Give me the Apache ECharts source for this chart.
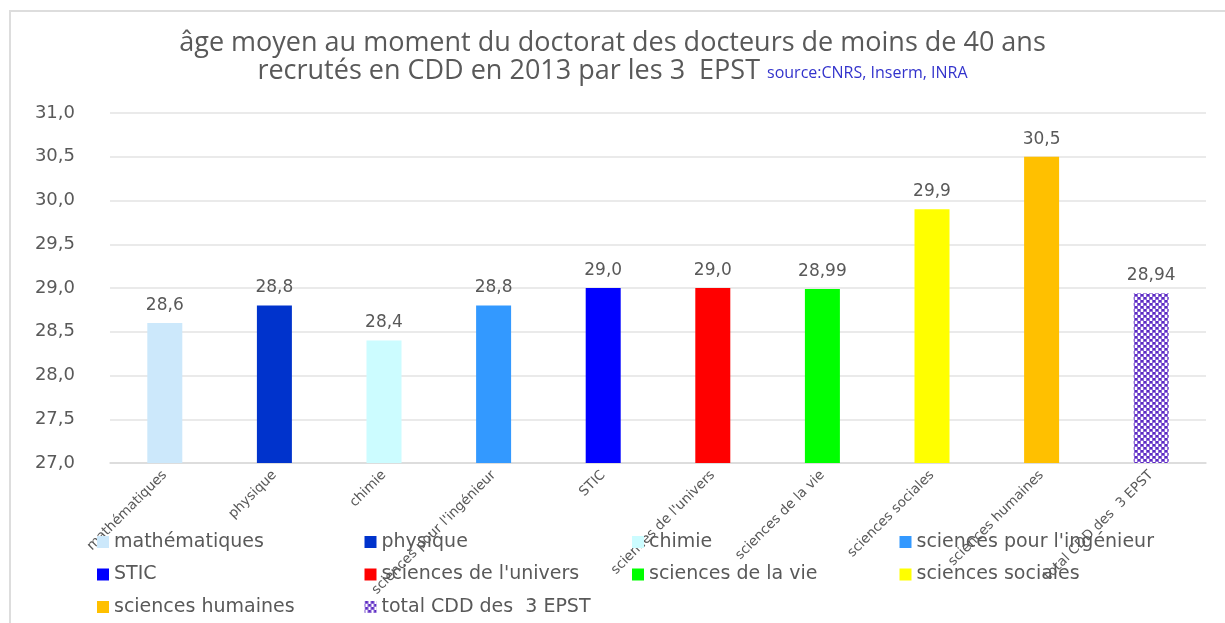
<!DOCTYPE html>
<html>
<head>
<meta charset="utf-8">
<script src="https://cdn.jsdelivr.net/npm/echarts@6/dist/echarts.min.js"></script>
<style>
  html, body { margin: 0; padding: 0; background: #fff; }
  #chart { width: 1225px; height: 623px; }
</style>
</head>
<body>
<div id="chart"></div>
<script>
// Disciplines (x-axis categories, also the series names)
const categories = [
  'mathématiques', 'physique', 'chimie', "sciences pour l'ingénieur", 'STIC',
  "sciences de l'univers", 'sciences de la vie', 'sciences sociales',
  'sciences humaines', 'total CDD des  3 EPST'
];
// Mean age at doctorate (years)
const meanAge = [28.6, 28.8, 28.4, 28.8, 29.0, 29.0, 28.99, 29.9, 30.5, 28.94];
// Decimal places shown in each bar's label
const labelDecimals = [1, 1, 1, 1, 1, 1, 2, 1, 1, 2];
// Y-axis range and step
const yMin = 27, yMax = 31, yStep = 0.5;

// Bar fills, one per discipline
const palette = ['#cce8fb', '#0033cc', '#ccfcff', '#3399ff', '#0000ff',
                 '#ff0000', '#00ff00', '#ffff00', '#ffc000', null];

// Dotted purple fill for the total bar
function dotPattern() {
  const c = document.createElement('canvas');
  c.width = 6; c.height = 6;
  const g = c.getContext('2d');
  g.fillStyle = '#ffffff';
  g.fillRect(0, 0, 6, 6);
  g.fillStyle = '#8f6bd8';
  g.fillRect(0, 0, 4, 3);
  g.fillRect(3, 3, 4, 3);
  g.fillRect(0, 3, 1, 3);
  g.fillStyle = '#5b2bc2';
  g.fillRect(1, 0, 2, 2);
  g.fillRect(4, 3, 2, 2);
  return c;
}

const fmt = (v, d) => v.toFixed(d).replace('.', ',');
const grey = '#595959';
const font = 'DejaVu Sans';

const series = categories.map((name, i) => ({
  name: name,
  type: 'bar',
  barWidth: 35,
  barGap: '-100%',
  itemStyle: {
    color: palette[i] ? palette[i] : { image: dotPattern(), repeat: 'repeat' }
  },
  label: {
    show: true,
    position: 'top',
    distance: 9,
    color: grey,
    fontFamily: font,
    fontSize: 17,
    formatter: () => fmt(meanAge[i], labelDecimals[i])
  },
  data: categories.map((c, j) => (j === i ? meanAge[j] : '-'))
}));

// Legend laid out as a 4-column grid, one legend per column
const legendCols = [0, 1, 2, 3].map(col => ({
  orient: 'vertical',
  left: 97 + col * 267.5,
  top: 532,
  padding: 0,
  itemWidth: 12,
  itemHeight: 12,
  itemGap: 12.5,
  icon: 'rect',
  selectedMode: false,
  textStyle: { color: grey, fontFamily: font, fontSize: 19, lineHeight: 20 },
  data: categories.filter((c, k) => k % 4 === col)
}));

const chart = echarts.init(document.getElementById('chart'));
chart.setOption({
  animation: false,
  backgroundColor: '#ffffff',
  title: {
    left: 'center',
    top: 24,
    text: '{t|âge moyen au moment du doctorat des docteurs de moins de 40 ans}\n' +
          '{t|recrutés en CDD en 2013 par les 3  EPST }{s|source:CNRS, Inserm, INRA}',
    textStyle: {
      rich: {
        t: { fontFamily: 'Open Sans', fontWeight: 'normal', fontSize: 27, color: grey, lineHeight: 28 },
        s: { fontFamily: 'Open Sans', fontWeight: 'normal', fontSize: 16, color: '#3333cc', lineHeight: 28, padding: [4, 0, 0, 0] }
      }
    }
  },
  legend: legendCols,
  grid: { left: 110, right: 19, top: 113, bottom: 160, containLabel: false },
  xAxis: {
    type: 'category',
    data: categories,
    axisTick: { show: false },
    axisLine: { lineStyle: { color: '#d9d9d9', width: 1.5 } },
    axisLabel: {
      interval: 0,
      rotate: 45,
      color: grey,
      fontFamily: font,
      fontSize: 13.5,
      margin: 10
    }
  },
  yAxis: {
    type: 'value',
    min: yMin,
    max: yMax,
    interval: yStep,
    axisLine: { show: false },
    axisTick: { show: false },
    splitLine: { lineStyle: { color: '#e3e3e3', width: 1.5 } },
    axisLabel: {
      color: grey,
      fontFamily: font,
      fontSize: 18,
      margin: 35,
      formatter: v => fmt(v, 1)
    }
  },
  series: series,
  graphic: [{
    type: 'polyline',
    silent: true,
    shape: { points: [[10, 623], [10, 11], [1225, 11]] },
    style: { stroke: '#dddddd', lineWidth: 2, fill: null }
  }]
});
</script>
</body>
</html>
